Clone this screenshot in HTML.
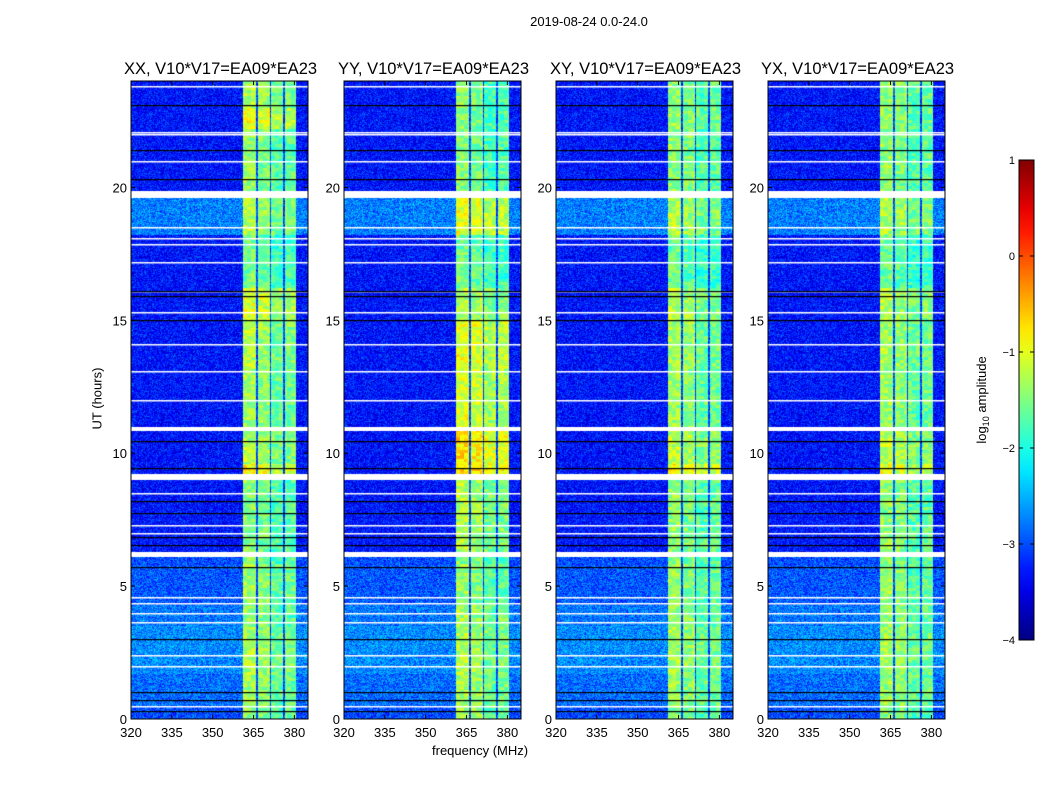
<!DOCTYPE html>
<html><head><meta charset="utf-8"><style>
body{margin:0;background:#fff;font-family:"Liberation Sans",sans-serif;}
#root{position:relative;width:1050px;height:800px;overflow:hidden;background:#fff}
.t{position:absolute;white-space:nowrap;color:#000}
canvas{position:absolute}
</style></head><body>
<div id="root">
<div class="t" style="left:0;width:1178px;text-align:center;top:14px;font-size:13px">2019-08-24 0.0-24.0</div>
<div class="t" style="left:432px;top:743px;font-size:13px">frequency (MHz)</div>
<div class="t" style="left:52px;top:391px;font-size:13px;transform:rotate(-90deg);width:90px;text-align:center">UT (hours)</div>
<svg id="svg" width="1050" height="800" style="position:absolute;left:0;top:0"></svg>
</div>
<script>
// ---- data ----
const panelTitles = ["XX, V10*V17=EA09*EA23","YY, V10*V17=EA09*EA23","XY, V10*V17=EA09*EA23","YX, V10*V17=EA09*EA23"];
const xTicks = [320,335,350,365,380];
const yTicks = [0,5,10,15,20];
const cbTicks = [1,0,-1,-2,-3,-4];
const cbTickLabels = ["1","0","\u22121","\u22122","\u22123","\u22124"];
// row segments: start hour, end hour, background log amp
const rowStart = [0,0.5,1.7,3.5,4.3,5.8,6.3,9.2,9.6,11.0,13.2,15.0,16.2,18.2,19.85,22.2,23.0];
const rowEnd   = [0.5,1.7,3.5,4.3,5.8,6.1,9.0,9.6,10.85,13.2,15.0,16.2,18.2,19.6,22.2,23.0,24.0];
const rowBg    = [-3.0,-2.85,-2.7,-2.8,-2.95,-3.0,-3.3,-3.3,-3.3,-3.3,-3.3,-3.3,-3.3,-2.75,-3.3,-3.3,-3.3];
// band level per polarization per row
const bandXX = [-1.6,-1.5,-1.45,-1.55,-1.5,-1.6,-1.6,-1.0,-1.4,-1.5,-1.4,-1.2,-1.7,-1.4,-1.55,-1.1,-1.45];
const bandYY = [-1.5,-1.45,-1.4,-1.45,-1.55,-1.6,-1.4,-0.8,-0.9,-1.2,-1.1,-1.4,-1.7,-1.1,-1.6,-1.6,-1.6];
const bandXY = [-1.6,-1.5,-1.45,-1.55,-1.55,-1.6,-1.55,-1.0,-1.35,-1.5,-1.45,-1.4,-1.75,-1.4,-1.55,-1.5,-1.55];
const bandYX = [-1.6,-1.5,-1.45,-1.55,-1.55,-1.6,-1.55,-1.1,-1.35,-1.5,-1.45,-1.4,-1.75,-1.4,-1.55,-1.55,-1.55];
const bandLevels = [bandXX,bandYY,bandXY,bandYX];
// sub-band offsets (361-366, 366-371, 371-376, 376-380.7 MHz)
const subStart = [361,366.5,371.5,376.5];
const subEnd   = [366,371,376,380.7];
const subOffset = [0.15,0.05,-0.15,-0.1];
// flagged lines: hour
const whiteLines = [0.5,2.0,2.4,3.65,4.0,4.35,4.6,7.3,7.0,8.5,12.0,13.1,14.1,15.3,16.1,17.2,17.85,18.1,18.5,21.0,22.0,22.1,23.8];
const blackLines = [0.3,0.7,1.0,3.0,5.7,6.55,6.85,7.75,8.2,9.45,10.45,15.0,15.9,16.1,20.3,21.4,23.1];
const gapStart = [6.1,9.0,10.85,19.6];
const gapEnd   = [6.3,9.2,11.0,19.85];

// ---- layout ----
const panelX=[131,344,556,768], PW=177, PT=81, PH=638;
const fMin=320,fMax=385,hMin=0,hMax=24;
const xs=f=>(f-fMin)/(fMax-fMin)*PW;
const ys=h=>PH-(h-hMin)/(hMax-hMin)*PH;
const vMin=-4,vMax=1;
function jet(v){let t=(v-vMin)/(vMax-vMin);t=Math.max(0,Math.min(1,t));
 const c=x=>Math.max(0,Math.min(1,x));
 return [c(1.5-Math.abs(4*t-3)),c(1.5-Math.abs(4*t-2)),c(1.5-Math.abs(4*t-1))].map(x=>Math.round(x*255));}
function hash(i,j){let n=(i*374761393+j*668265263)|0;n=(n^(n>>>13))*1274126177|0;return ((n^(n>>>16))>>>0)/4294967296;}
const root=document.getElementById('root');
const svg=document.getElementById('svg');
const NS="http://www.w3.org/2000/svg";
function add(tag,attrs,parent){const e=document.createElementNS(NS,tag);for(const k in attrs)e.setAttribute(k,attrs[k]);(parent||svg).appendChild(e);return e;}

panelTitles.forEach((title,p)=>{
 const cv=document.createElement('canvas');cv.width=PW;cv.height=PH;
 cv.style.left=panelX[p]+'px';cv.style.top=PT+'px';
 
 
 root.insertBefore(cv,svg);
 const ctx=cv.getContext('2d');const img=ctx.createImageData(PW,PH);
 const band=bandLevels[p];
 for(let y=0;y<PH;y++){
  const h=hMin+(PH-y-0.5)/PH*(hMax-hMin);
  let r=-1;for(let k=0;k<rowStart.length;k++){if(h>=rowStart[k]&&h<rowEnd[k]){r=k;break;}}
  let gap=r<0;for(let k=0;k<gapStart.length;k++)if(h>=gapStart[k]&&h<gapEnd[k])gap=true;
  for(let x=0;x<PW;x++){
   const f=fMin+(x+0.5)/PW*(fMax-fMin);const o=(y*PW+x)*4;
   if(gap){img.data[o]=img.data[o+1]=img.data[o+2]=255;img.data[o+3]=255;continue;}
   let v=rowBg[r],inB=false;
   for(let s=0;s<subStart.length;s++){if(f>=subStart[s]&&f<subEnd[s]){v=band[r]+subOffset[s];inB=true;}}
   if(f>=361&&f<380.7&&!inB)v=-3.0;
   if(inB){v+=(hash(Math.floor(x/4)+p*7,Math.floor(y/3)+5000)-0.5)*0.6+(hash(x,y)-0.5)*0.25;}
   else{v+=(hash(x,y)-0.5)*0.8+(hash(Math.floor(x/3),y+9999)-0.5)*0.2;}
   const c=jet(v);img.data[o]=c[0];img.data[o+1]=c[1];img.data[o+2]=c[2];img.data[o+3]=255;
  }
 }
 ctx.putImageData(img,0,0);
 whiteLines.forEach(h=>{ctx.fillStyle='#fff';ctx.fillRect(0,Math.round(ys(h)),PW,1.5);});
 blackLines.forEach(h=>{ctx.fillStyle='#000';ctx.fillRect(0,Math.round(ys(h)),PW,1.2);});

 const g=add('g',{transform:`translate(${panelX[p]},${PT})`});
 
 
 add('rect',{x:0,y:0,width:PW,height:PH,fill:'none',stroke:'#000','stroke-width':1},g);
 xTicks.forEach(t=>{const x=xs(t);
  add('line',{x1:x,x2:x,y1:PH,y2:PH-4,stroke:'#000'},g);add('line',{x1:x,x2:x,y1:0,y2:4,stroke:'#000'},g);
  const tx=add('text',{x:x,y:PH+18,'text-anchor':'middle','font-size':13,'font-family':'Liberation Sans'},g);tx.textContent=t;
  
  });
 yTicks.forEach(t=>{const y=ys(t);
  add('line',{x1:0,x2:4,y1:y,y2:y,stroke:'#000'},g);add('line',{x1:PW,x2:PW-4,y1:y,y2:y,stroke:'#000'},g);
  const tx=add('text',{x:-4,y:y+5,'text-anchor':'end','font-size':13,'font-family':'Liberation Sans'},g);tx.textContent=t;
  
  });
 const tt=add('text',{x:PW/2+1,y:-7,'text-anchor':'middle','font-size':16.5,'font-family':'Liberation Sans'},g);tt.textContent=title;
 
 
});

// colorbar
const CBX=1019,CBY=160,CBW=15,CBH=480;
const cg=add('g',{transform:`translate(${CBX},${CBY})`});


const defs=add('defs',{},cg);const lg=add('linearGradient',{id:'jetg',x1:0,y1:1,x2:0,y2:0},defs);
for(let i=0;i<=20;i++){const c=jet(vMin+i/20*(vMax-vMin));add('stop',{offset:i/20,'stop-color':`rgb(${c})`},lg);}
add('rect',{x:0,y:0,width:CBW,height:CBH,fill:'url(#jetg)',stroke:'#000'},cg);
cbTicks.forEach((t,i)=>{const y=(vMax-t)/(vMax-vMin)*CBH;
 add('line',{x1:CBW,x2:CBW-4,y1:y,y2:y,stroke:'#000'},cg);add('line',{x1:0,x2:4,y1:y,y2:y,stroke:'#000'},cg);
 const tx=add('text',{x:-4,y:y+4,'text-anchor':'end','font-size':11,'font-family':'Liberation Sans'},cg);tx.textContent=cbTickLabels[i];
 
 });
const cl=add('text',{x:0,y:0,transform:`translate(-33,${CBH/2}) rotate(-90)`,'text-anchor':'middle','font-size':13,'font-family':'Liberation Sans'},cg);
cl.innerHTML='log<tspan font-size="9" dy="3">10</tspan><tspan dy="-3"> amplitude</tspan>';


</script>
</body></html>
